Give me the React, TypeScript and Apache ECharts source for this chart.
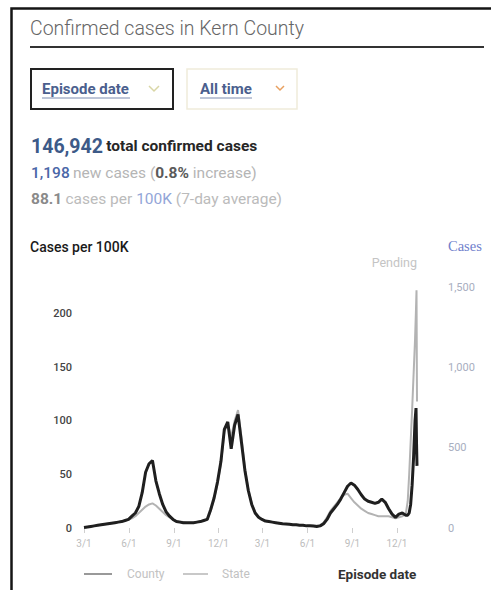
import React, { useEffect, useRef } from "react";
import * as echarts from "echarts";

// Weekly values (cases per 100K, 7-day avg), weeks starting 2020-03-01
const countyWeekly = [
  0.5, 1, 1.5, 2, 2.5, 3, 3.5, 4, 4.5, 5, 5.5, 6, 7, 8,
  11, 14, 20, 33, 52, 60, 63, 44, 32, 22, 15, 11, 8, 6,
  5.5, 5, 5, 5, 5, 5.5, 6, 7,
  8, 17, 28, 43, 62, 92, 99, 74, 96, 106, 80, 54, 35, 22, 14, 10, 8, 6.5, 6,
  5.5, 5, 4.5, 4, 3.8, 3.5, 3, 3, 2.5, 2.5, 2, 2, 1.8, 1.5,
  2, 4, 8, 14, 18, 22, 27, 33, 39, 42, 40, 36, 31, 27, 25, 24, 23, 24, 27, 24, 18, 13, 10, 13, 14, 12,
];
const stateWeekly = [
  0.5, 1, 1.5, 2, 2.5, 3, 3.5, 4, 4.5, 5, 5.5, 6, 7, 8,
  9, 11, 14, 17, 20, 22, 23, 21, 18, 15, 12, 10, 8, 6.5,
  6, 5.5, 5, 5, 5, 5.5, 6, 7,
  8, 16, 27, 41, 60, 90, 97, 85, 100, 110, 85, 56, 36, 23, 15, 10, 8, 6.5, 6,
  5.5, 5, 4.5, 4, 3.8, 3.5, 3, 3, 2.5, 2.5, 2.2, 2, 2, 2,
  2.5, 5, 10, 16, 20, 24, 28, 31, 32, 28, 24, 21, 18, 16, 14, 13, 12, 11, 11, 11, 11, 10, 9, 10, 11, 13,
];
// Final days (days since 2020-03-01), daily-ish resolution of the latest surge
const tailDays = [662, 665, 668, 671, 674, 677, 679, 680, 681];
const countyTail = [12, 14, 22, 40, 66, 100, 112, 80, 58];
const stateTail = [25, 50, 80, 110, 143, 176, 205, 222, 118];

// x-axis ticks: days since 2020-03-01 of quarter starts
const quarterDays = [0, 92, 184, 275, 365, 457, 549, 640];
const quarterLabels = ["3/1", "6/1", "9/1", "12/1", "3/1", "6/1", "9/1", "12/1"];

const toSeries = (weekly: number[], tail: number[]) =>
  weekly.map((v, i) => [i * 7, v]).concat(tailDays.map((d, i) => [d, tail[i]]));

const FONT = "Roboto, 'Noto Sans', Arial, sans-serif";

export default function App() {
  const ref = useRef<HTMLDivElement>(null);
  useEffect(() => {
    if (!ref.current) return;
    const chart = echarts.init(ref.current, undefined, { renderer: "svg" });
    const txt = (x: number, y: number, text: string, font: string, fill: string, extra: any = {}) => ({
      type: "text",
      x,
      y,
      style: { text, font, fill, verticalAlign: "middle", ...extra },
    });
    chart.setOption({
      animation: false,
      backgroundColor: "#fff",
      textStyle: { fontFamily: FONT },
      grid: { left: 84, right: 74, top: 287, bottom: 62 },
      xAxis: {
        type: "value",
        min: 0,
        max: 681,
        axisLine: { show: false },
        splitLine: { show: false },
        axisTick: { show: true, customValues: quarterDays, length: 5, lineStyle: { color: "#cfcfcf" } },
        axisLabel: {
          customValues: quarterDays,
          formatter: (v: number) => {
            const i = quarterDays.indexOf(v);
            return i >= 0 ? quarterLabels[i] : "";
          },
          color: "#bdbdbd",
          fontSize: 10,
          margin: 10,
          fontFamily: FONT,
        },
      },
      yAxis: [
        {
          type: "value",
          min: 0,
          max: 225,
          interval: 50,
          axisLine: { show: false },
          axisTick: { show: false },
          splitLine: { show: false },
          axisLabel: { showMaxLabel: false, color: "#444", fontSize: 11, margin: 12, fontWeight: 500, fontFamily: FONT },
        },
        {
          type: "value",
          position: "right",
          min: 0,
          max: 1500,
          interval: 500,
          axisLine: { show: false },
          axisTick: { show: false },
          splitLine: { show: false },
          axisLabel: {
            color: "#a8aec0",
            fontSize: 11,
            margin: 31,
            fontFamily: FONT,
            formatter: (v: number) => v.toLocaleString("en-US"),
          },
        },
      ],
      series: [
        {
          name: "State",
          type: "line",
          data: toSeries(stateWeekly, stateTail),
          showSymbol: false,
          lineStyle: { color: "#b3b3b3", width: 2 },
          itemStyle: { color: "#b3b3b3" },
          z: 2,
        },
        {
          name: "County",
          type: "line",
          data: toSeries(countyWeekly, countyTail),
          showSymbol: false,
          lineStyle: { color: "#1f1f1f", width: 3 },
          itemStyle: { color: "#1f1f1f" },
          z: 3,
        },
      ],
      graphic: [
        { type: "rect", shape: { x: 11.5, y: 8.5, width: 500, height: 600 }, style: { fill: "none", stroke: "#151515", lineWidth: 2.5 } },
        txt(30, 28, "Confirmed cases in Kern County", `300 19.5px ${FONT}`, "#666"),
        { type: "line", shape: { x1: 30, y1: 47, x2: 484, y2: 47 }, style: { stroke: "#333", lineWidth: 2 } },
        { type: "rect", shape: { x: 31, y: 69, width: 142, height: 40 }, style: { fill: "#fff", stroke: "#222", lineWidth: 2 } },
        txt(42, 89, "Episode date", `bold 15px ${FONT}`, "#4b5f8e"),
        { type: "line", shape: { x1: 42, y1: 98, x2: 130, y2: 98 }, style: { stroke: "#7d8cb0", lineWidth: 1 } },
        { type: "polyline", shape: { points: [[149, 86], [154, 91], [159, 86]] }, style: { stroke: "#d9d6a6", lineWidth: 1.5, fill: "none" } },
        { type: "rect", shape: { x: 187, y: 69, width: 110, height: 40 }, style: { fill: "#fff", stroke: "#f0ebda", lineWidth: 1.5 } },
        txt(200, 89, "All time", `bold 15px ${FONT}`, "#4b5f8e"),
        { type: "line", shape: { x1: 200, y1: 98, x2: 252, y2: 98 }, style: { stroke: "#7d8cb0", lineWidth: 1 } },
        { type: "polyline", shape: { points: [[276, 86], [280, 90], [284, 86]] }, style: { stroke: "#e8a060", lineWidth: 1.5, fill: "none" } },
        {
          type: "text",
          x: 31,
          y: 146,
          style: {
            text: "{a|146,942} {b|total confirmed cases}",
            verticalAlign: "middle",
            rich: {
              a: { font: `bold 19.5px ${FONT}`, fill: "#3d5a88" },
              b: { font: `bold 15.5px ${FONT}`, fill: "#262626" },
            },
          },
        },
        {
          type: "text",
          x: 31,
          y: 173,
          style: {
            text: "{a|1,198} {b|new cases (}{c|0.8%}{b| increase)}",
            verticalAlign: "middle",
            rich: {
              a: { font: `500 15.5px ${FONT}`, fill: "#4a67a8" },
              b: { font: `15.5px ${FONT}`, fill: "#b5b5b5" },
              c: { font: `bold 15.5px ${FONT}`, fill: "#5a5a5a" },
            },
          },
        },
        {
          type: "text",
          x: 31,
          y: 199,
          style: {
            text: "{a|88.1} {b|cases per }{c|100K}{b| (7-day average)}",
            verticalAlign: "middle",
            rich: {
              a: { font: `bold 15.5px ${FONT}`, fill: "#8a8a8a" },
              b: { font: `15.5px ${FONT}`, fill: "#bbbbbb" },
              c: { font: `15.5px ${FONT}`, fill: "#93a6d8" },
            },
          },
        },
        txt(30, 247, "Cases per 100K", `500 14px ${FONT}`, "#1a1a1a"),
        txt(448, 246, "Cases", `14.5px 'Liberation Serif', 'DejaVu Serif', serif`, "#6f80cc"),
        txt(417, 262, "Pending", `12.5px ${FONT}`, "#c4c4c4", { align: "right" }),
        { type: "line", shape: { x1: 84, y1: 574, x2: 112, y2: 574 }, style: { stroke: "#777", lineWidth: 1.5 } },
        txt(127, 574, "County", `12px ${FONT}`, "#c2c2c2"),
        { type: "line", shape: { x1: 183, y1: 574, x2: 208, y2: 574 }, style: { stroke: "#c8c8c8", lineWidth: 2 } },
        txt(222, 574, "State", `12px ${FONT}`, "#c2c2c2"),
        txt(338, 574, "Episode date", `bold 13.5px ${FONT}`, "#333"),
      ],
    });
    return () => chart.dispose();
  }, []);
  return <div ref={ref} style={{ position: "absolute", left: 0, top: 0, width: 491, height: 590 }} />;
}
